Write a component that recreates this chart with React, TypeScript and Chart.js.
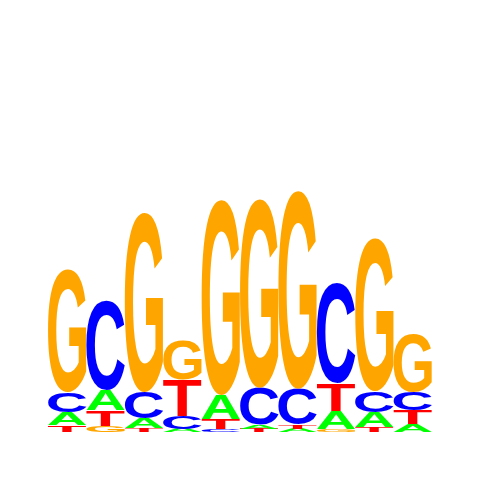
import React, { useEffect, useRef } from 'react';
import { Chart, registerables, Plugin } from 'chart.js';

Chart.register(...registerables);

// posiciones del motivo y altura (bits) de cada base
const positions = ['1', '2', '3', '4', '5', '6', '7', '8', '9', '10'];
const heightA = [0.068, 0.104, 0.052, 0.016, 0.125, 0.021, 0.016, 0.094, 0.078, 0.042];
const heightC = [0.104, 0.464, 0.135, 0.068, 0.016, 0.193, 0.188, 0.521, 0.109, 0.094];
const heightG = [0.64, 0.031, 0.932, 0.208, 1.016, 0.984, 1.031, 0.016, 0.797, 0.302];
const heightT = [0.036, 0.083, 0.021, 0.188, 0.052, 0.016, 0.021, 0.141, 0.026, 0.073];

const bases = ['A', 'C', 'G', 'T'];
const baseColors: Record<string, string> = {
  A: '#00ff00',
  C: '#0000ff',
  G: '#ffa500',
  T: '#ff0000',
};

// apila las letras de menor a mayor en cada posición
const buildLayers = () => {
  const all = [heightA, heightC, heightG, heightT];
  const layers = bases.map(() => ({ data: [] as number[], letters: [] as string[] }));
  positions.forEach((_, i) => {
    const order = bases
      .map((b, k) => ({ b, h: all[k][i] }))
      .sort((p, q) => p.h - q.h);
    order.forEach((o, level) => {
      layers[level].data.push(o.h);
      layers[level].letters.push(o.b);
    });
  });
  return layers;
};

const letterPlugin: Plugin<'bar'> = {
  id: 'logoLetters',
  afterDatasetsDraw(chart) {
    const ctx = chart.ctx;
    ctx.save();
    ctx.font = 'bold 200px "Liberation Sans", Arial, sans-serif';
    ctx.textAlign = 'left';
    ctx.textBaseline = 'alphabetic';
    chart.data.datasets.forEach((ds: any, di) => {
      const meta = chart.getDatasetMeta(di);
      meta.data.forEach((el: any, i) => {
        const letter = ds.letters[i];
        const { x, y, base, width } = el.getProps(['x', 'y', 'base', 'width'], true);
        const top = Math.min(y, base);
        const h = Math.abs(base - y);
        if (h < 0.5) return;
        const m = ctx.measureText(letter);
        const gw = m.actualBoundingBoxLeft + m.actualBoundingBoxRight;
        const gh = m.actualBoundingBoxAscent + m.actualBoundingBoxDescent;
        ctx.save();
        ctx.translate(x - width / 2, top);
        ctx.scale(width / gw, h / gh);
        ctx.fillStyle = baseColors[letter];
        ctx.fillText(letter, m.actualBoundingBoxLeft, m.actualBoundingBoxAscent);
        ctx.restore();
      });
    });
    ctx.restore();
  },
};

const SequenceLogo: React.FC = () => {
  const chartRef = useRef<HTMLCanvasElement>(null);

  useEffect(() => {
    if (!chartRef.current) return;
    const layers = buildLayers();
    const chart = new Chart(chartRef.current, {
      type: 'bar',
      data: {
        labels: positions,
        datasets: layers.map((l, k) => ({
          label: 'nivel ' + k,
          data: l.data,
          letters: l.letters,
          backgroundColor: 'rgba(0,0,0,0)',
          borderWidth: 0,
          barPercentage: 1,
          categoryPercentage: 1,
        })) as any,
      },
      options: {
        responsive: false,
        animation: false,
        devicePixelRatio: 1,
        layout: { padding: { left: 48, right: 48, top: 48, bottom: 48 } },
        plugins: { legend: { display: false }, tooltip: { enabled: false } },
        scales: {
          x: { stacked: true, display: false },
          y: { stacked: true, display: false, min: 0, max: 2 },
        },
      },
      plugins: [letterPlugin],
    });
    return () => {
      chart.destroy();
    };
  }, []);

  return (
    <div style={{ position: 'fixed', left: 0, top: 0, width: 480, height: 480, background: '#fff' }}>
      <canvas ref={chartRef} width={480} height={480} />
    </div>
  );
};

export default function App() {
  return <SequenceLogo />;
}
